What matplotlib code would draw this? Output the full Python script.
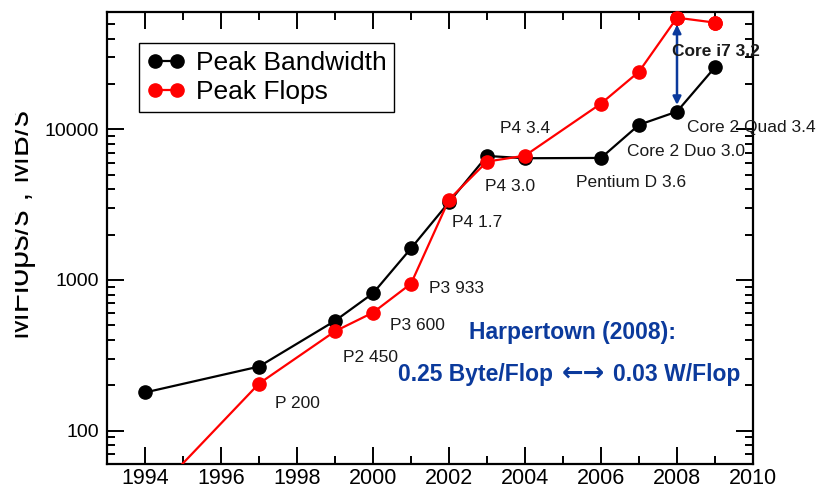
import matplotlib
matplotlib.use("Agg")
import matplotlib.pyplot as plt
from matplotlib.patches import Rectangle
from matplotlib.ticker import LogLocator, MultipleLocator, NullFormatter

plt.rcParams['font.family'] = ['Liberation Sans', 'DejaVu Sans']

# data
bw_years = [1994, 1997, 1999, 2000, 2001, 2002, 2003, 2004, 2006, 2007, 2008, 2009]
bw_values = [179, 266, 535, 815, 1620, 3280, 6650, 6420, 6450, 10700, 13100, 25800]

fl_years = [1994, 1997, 1999, 2000, 2001, 2002, 2003, 2004, 2006, 2007, 2008, 2009]
fl_values = [33, 205, 456, 607, 944, 3410, 6100, 6680, 14800, 24100, 55000, 51000]

cpu_labels = ['P 200', 'P2 450', 'P3 600', 'P3 933', 'P4 1.7', 'P4 3.0', 'P4 3.4',
              'Pentium D 3.6', 'Core 2 Duo 3.0', 'Core 2 Quad 3.4']
label_x = [1997.42, 1999.21, 2000.45, 2001.47, 2002.08, 2002.95, 2003.34,
           2005.34, 2006.68, 2008.26]
label_y = [151, 305, 500, 875, 2400, 4160, 10090, 4430, 7130, 10300]

blue = '#0b3a9c'

fig = plt.figure(figsize=(8.2, 4.91), dpi=100)
ax = fig.add_axes([107 / 820, 27 / 491, 646 / 820, 452 / 491])

ax.plot(bw_years, bw_values, color='black', lw=1.6, marker='o', ms=9.5,
        label='Peak Bandwidth', clip_on=False, zorder=3)
ax.plot(fl_years, fl_values, color='red', lw=1.6, marker='o', ms=9.5,
        label='Peak Flops', clip_on=True, zorder=4)
# red points near the top edge are drawn unclipped
ax.plot(fl_years[-2:], fl_values[-2:], color='red', lw=0, marker='o', ms=9.5,
        clip_on=False, zorder=4)

ax.set_yscale('log')
ax.set_xlim(1993, 2010)
ax.set_ylim(60, 60000)

ax.xaxis.set_major_locator(MultipleLocator(2))
ax.xaxis.set_minor_locator(MultipleLocator(1))
ax.yaxis.set_minor_locator(LogLocator(base=10, subs=range(2, 10), numticks=20))
ax.yaxis.set_minor_formatter(NullFormatter())
ax.set_yticks([100, 1000, 10000])
ax.set_yticklabels(['100', '1000', '10000'])

ax.tick_params(which='both', direction='in', top=True, right=True, width=1.4)
ax.tick_params(axis='x', labelsize=15.5, pad=3)
ax.tick_params(axis='y', labelsize=14, pad=6)
ax.tick_params(which='major', length=12)
ax.tick_params(which='minor', length=6)
for s in ax.spines.values():
    s.set_linewidth(1.6)

for txt, x, y in zip(cpu_labels, label_x, label_y):
    ax.text(x, y, txt, fontsize=12.5, ha='left', va='center', color='#1a1a1a', zorder=6)

# Core i7 arrow and label
ax.annotate('', xy=(2008, 49400), xytext=(2008, 14500),
            arrowprops=dict(arrowstyle='<|-|>', color=blue, lw=1.8,
                            mutation_scale=12, shrinkA=0, shrinkB=0), zorder=5)
ax.text(2007.86, 32600, 'Core i7 3.2', fontsize=12.5, fontweight='bold',
        ha='left', va='center', color='#1a1a1a', zorder=6)

# Harpertown note
ax.text(2005.24, 447, 'Harpertown (2008):', fontsize=16.5, fontweight='bold',
        color=blue, ha='center', va='center')
ax.text(2000.66, 235, '0.25 Byte/Flop', fontsize=16.5, fontweight='bold',
        color=blue, ha='left', va='center')
ax.text(2005.54, 240, '\u2190\u2192', fontsize=18.5, fontweight='bold',
        color=blue, ha='center', va='center', family='DejaVu Sans')
ax.text(2009.66, 235, '0.03 W/Flop', fontsize=16.5, fontweight='bold',
        color=blue, ha='right', va='center')

leg = ax.legend(loc='upper left', bbox_to_anchor=(0.0495, 0.931), fontsize=19,
                numpoints=2, handlelength=1.45, handletextpad=0.4, borderpad=0.3,
                labelspacing=0.2, fancybox=False, framealpha=1, edgecolor='black',
                borderaxespad=0)
leg.get_frame().set_linewidth(1.0)

fig.text(36 / 820, 1 - 225 / 491, 'MFlops/s , MB/s', rotation=90, fontsize=23,
         ha='right', va='center')
fig.patches.append(Rectangle((0, 0), 15 / 820, 1, transform=fig.transFigure,
                             facecolor='white', edgecolor='none', zorder=10))

fig.savefig('out.png', dpi=100)
